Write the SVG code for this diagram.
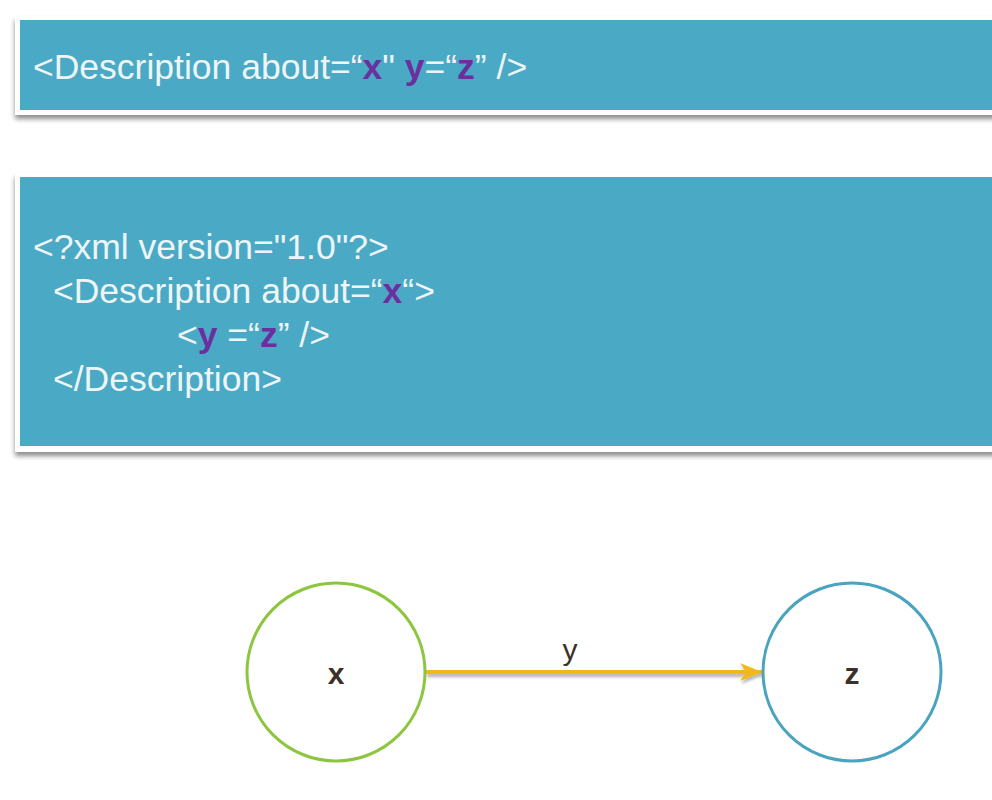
<svg xmlns="http://www.w3.org/2000/svg" width="992" height="800" viewBox="0 0 992 800">
<defs>
<style>
.code{font-family:"Liberation Sans",Arial,sans-serif;font-size:35.5px;fill:#eef5f7}
.v{fill:#6b2fa0;font-weight:bold}
.lbl{font-family:"Liberation Sans",Arial,sans-serif;fill:#3b3128}
.frame{fill:#ffffff}
.panel{fill:#4aaac5}
</style>
<filter id="sh" x="-5%" y="-10%" width="115%" height="130%">
<feGaussianBlur in="SourceAlpha" stdDeviation="2.5"/>
<feOffset dx="0" dy="4" result="b"/>
<feComponentTransfer><feFuncA type="linear" slope="0.45"/></feComponentTransfer>
<feMerge><feMergeNode/><feMergeNode in="SourceGraphic"/></feMerge>
</filter>
<filter id="ash" filterUnits="userSpaceOnUse" x="410" y="650" width="370" height="45">
<feGaussianBlur in="SourceAlpha" stdDeviation="1.5"/>
<feOffset dx="1" dy="3"/>
<feComponentTransfer><feFuncA type="linear" slope="0.3"/></feComponentTransfer>
<feMerge><feMergeNode/><feMergeNode in="SourceGraphic"/></feMerge>
</filter>
<marker id="ah" markerUnits="userSpaceOnUse" markerWidth="26" markerHeight="22" refX="24" refY="11" orient="auto">
<path d="M2,2 L24,11 L2,20 L8,11 Z" fill="#f1b81e"/>
</marker>
</defs>
<g id="box1">
<rect class="frame" x="15" y="16" width="990" height="99" filter="url(#sh)"/>
<rect class="panel" x="20" y="20" width="980" height="90"/>
<text class="code" x="33" y="79">&lt;Description about=“<tspan class="v">x</tspan>" <tspan class="v">y</tspan>=“<tspan class="v">z</tspan>” /&gt;</text>
</g>
<g id="box2">
<rect class="frame" x="15" y="173" width="990" height="279" filter="url(#sh)"/>
<rect class="panel" x="20" y="177" width="980" height="269"/>
<text class="code" x="33" y="259">&lt;?xml version="1.0"?&gt;</text>
<text class="code" x="53" y="303">&lt;Description about=“<tspan class="v">x</tspan>“&gt;</text>
<text class="code" x="177" y="347">&lt;<tspan class="v">y</tspan> =“<tspan class="v">z</tspan>” /&gt;</text>
<text class="code" x="53" y="391">&lt;/Description&gt;</text>
</g>
<g id="connectors">
<path d="M426,672 L762,672" fill="none" stroke="#f1b81e" stroke-width="4" marker-end="url(#ah)" filter="url(#ash)"/>
<text class="lbl" x="570" y="660" font-size="30" text-anchor="middle">y</text>
</g>
<g id="node-x">
<circle cx="336" cy="672" r="89" fill="#ffffff" stroke="#8cc63f" stroke-width="3"/>
<text class="lbl" x="336" y="684" font-size="30" font-weight="bold" text-anchor="middle">x</text>
</g>
<g id="node-z">
<circle cx="852" cy="672" r="89" fill="#ffffff" stroke="#4aa3bf" stroke-width="3"/>
<text class="lbl" x="852" y="684" font-size="30" font-weight="bold" text-anchor="middle">z</text>
</g>
</svg>
